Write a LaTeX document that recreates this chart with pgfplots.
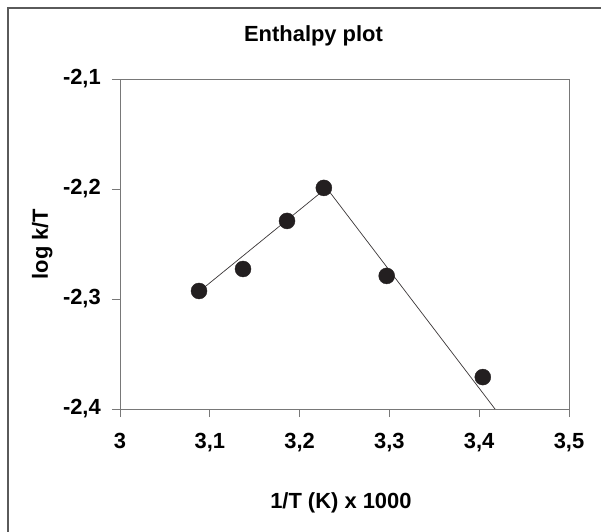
\documentclass[border=0pt]{standalone}
\usepackage{pgfplots}
\pgfplotsset{compat=1.18}
\usepackage{fontspec}
\setmainfont{Liberation Sans}
\definecolor{spine}{RGB}{120,120,120}
\definecolor{frame}{RGB}{90,90,90}
\definecolor{dot}{RGB}{35,31,32}
\begin{document}
\begin{tikzpicture}
\useasboundingbox (0,0) rectangle (601bp,-532bp);
\draw[frame, line width=1.5bp] (8bp,-532bp) -- (8bp,-8bp) -- (601bp,-8bp);
\begin{axis}[
  at={(120bp,-409bp)}, anchor=south west,
  width=449bp, height=330bp, scale only axis,
  xmin=3, xmax=3.5, ymin=-2.4, ymax=-2.1,
  xtick={3,3.1,3.2,3.3,3.4,3.5},
  ytick={-2.4,-2.3,-2.2,-2.1},
  xtick pos=lower, ytick pos=left,
  tick align=outside, major tick length=8bp,
  axis line style={spine, line width=0.8bp},
  tick style={spine, line width=0.8bp},
  /pgf/number format/assume math mode=true,
  /pgf/number format/use comma,
  /pgf/number format/precision=1,
  font=\fontsize{22}{26}\selectfont\bfseries,
  ticklabel style={font=\fontsize{22}{26}\selectfont\bfseries},
  yticklabel style={xshift=-7.7bp},
  xticklabel style={yshift=-12.5bp},
  title={Enthalpy plot},
  title style={at={(axis description cs:0.431,1)}, anchor=base, yshift=32bp},
  xlabel={1/T (K) x 1000},
  xlabel style={at={(axis description cs:0.492,0)}, anchor=base, yshift=-99bp},
  ylabel={log k/T},
  ylabel style={at={(axis description cs:-0.1604,0.5)}, anchor=base},
  clip=false,
]
\addplot[dot!90, line width=0.7bp] coordinates {(3.09,-2.292) (3.23,-2.199)};
\addplot[dot!90, line width=0.7bp] coordinates {(3.23,-2.199) (3.4176,-2.4)};
\addplot[only marks, mark=*, mark size=8bp, dot, mark options={draw=dot, fill=dot}]
  coordinates {(3.088,-2.2927) (3.137,-2.2727) (3.186,-2.229) (3.227,-2.199) (3.297,-2.279) (3.404,-2.371)};
\end{axis}
\end{tikzpicture}
\end{document}
